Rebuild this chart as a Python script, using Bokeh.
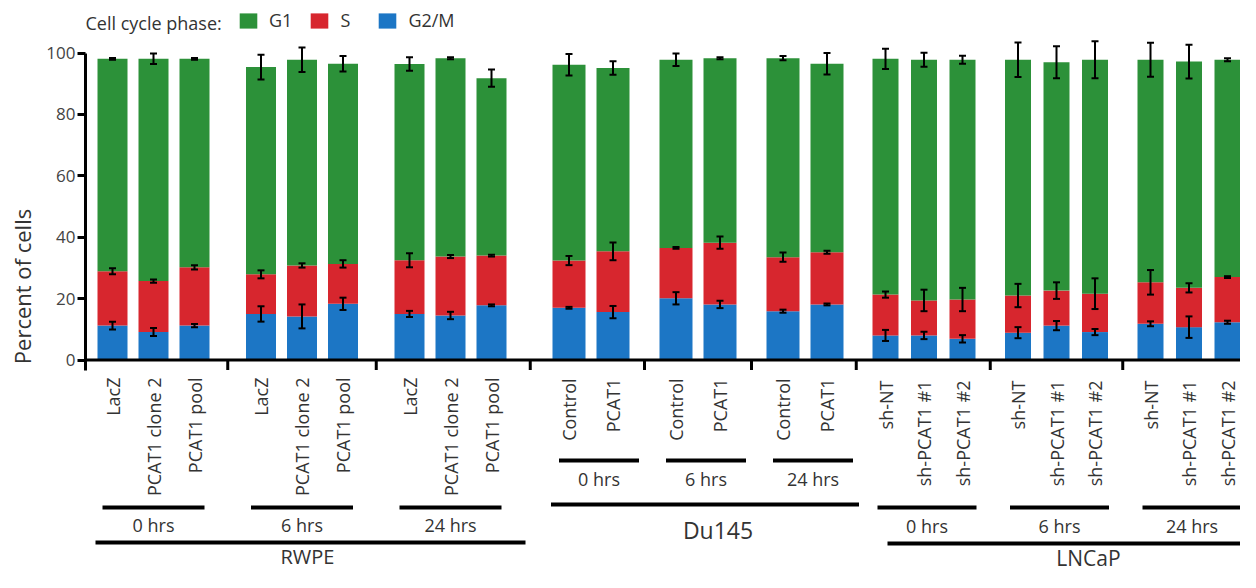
import numpy as np
from bokeh.plotting import figure
from bokeh.models import (ColumnDataSource, Range1d, Whisker, TeeHead, Span,
                          Legend, LegendItem, FixedTicker)
from bokeh.core.properties import value
from bokeh.embed import file_html
from bokeh.resources import INLINE

# ---------------- data ----------------
cell_lines = ["RWPE", "Du145", "LNCaP"]
time_points = ["0 hrs", "6 hrs", "24 hrs"]
conditions = {
    "RWPE": ["LacZ", "PCAT1 clone 2", "PCAT1 pool"],
    "Du145": ["Control", "PCAT1"],
    "LNCaP": ["sh-NT", "sh-PCAT1 #1", "sh-PCAT1 #2"],
}
phases = ["G2/M", "S", "G1"]          # stacking order (bottom -> top)
legend_order = ["G1", "S", "G2/M"]
legend_title = "Cell cycle phase:"

g2m = [11.2, 9.1, 11.2, 15.0, 14.2, 18.3, 15.0, 14.5, 17.8,
       17.0, 15.6, 20.1, 18.1, 15.9, 18.1,
       8.0, 8.0, 6.9, 8.9, 11.2, 9.1, 11.8, 10.7, 12.3]
s_phase = [17.7, 16.6, 19.0, 12.9, 16.6, 13.0, 17.5, 19.2, 16.2,
           15.4, 19.8, 16.4, 20.1, 17.6, 17.0,
           13.3, 11.4, 12.8, 12.1, 11.4, 12.5, 13.5, 12.8, 14.7]
g1 = [69.2, 72.4, 67.9, 67.5, 67.0, 65.2, 63.9, 64.6, 57.8,
      63.8, 59.7, 61.3, 60.1, 64.8, 61.4,
      76.8, 78.4, 78.1, 76.8, 74.4, 76.2, 72.5, 73.7, 70.8]

g2m_err = [1.3, 1.3, 0.5, 2.5, 3.9, 2.0, 1.0, 1.2, 0.3,
           0.3, 2.0, 2.0, 1.2, 0.5, 0.3,
           1.8, 1.2, 1.2, 1.8, 1.5, 1.0, 0.8, 3.5, 0.5]
s_err = [1.0, 0.5, 0.7, 1.3, 0.7, 1.2, 2.3, 0.5, 0.3,
         1.5, 2.9, 0.3, 2.0, 1.5, 0.5,
         1.0, 3.5, 3.8, 3.8, 2.7, 5.0, 4.0, 1.5, 0.3]
g1_err = [0.3, 1.7, 0.3, 4.0, 4.0, 2.5, 2.2, 0.3, 2.8,
          3.5, 2.2, 2.0, 0.3, 0.7, 3.5,
          3.3, 2.3, 1.3, 5.6, 5.2, 6.0, 5.5, 5.5, 0.5]

y_ticks = [0, 20, 40, 60, 80, 100]

# ---------------- style ----------------
FONT = "Open Sans"
TXT = "#333333"
COLORS = {"G1": "#2c9139", "S": "#d7262e", "G2/M": "#1c76c5"}
W, H = 1240, 572
LEFT = 85              # frame left edge (px); x scale is 1 unit per pixel
Y0_PX = 359.5          # pixel row (from top of frame) of y = 0
PX_PER_UNIT = 3.07
# spacing (px): gap before the group's first bar, pitch between bars, step between time groups
LAYOUT = {
    "RWPE":  dict(gap=27.0, pitch=41.0, step=148.5, bar=30),
    "Du145": dict(gap=77.5, pitch=44.0, step=107.0, bar=33),
    "LNCaP": dict(gap=58.5, pitch=38.5, step=132.5, bar=26),
}
STYLE = {  # pixel rows of the annotation block and horizontal line extensions (px)
    "RWPE":  dict(cond=377, sub=507, time=524, grp=542, glab=556, gsize="20px",
                  sub_ext=(-10, 10), grp_ext=(-17, 34), glab_dx=-3),
    "Du145": dict(cond=378, sub=460, time=478, grp=504, glab=529, gsize="23px",
                  sub_ext=(-10, 26), grp_ext=(-18, 32), glab_dx=13),
    "LNCaP": dict(cond=380, sub=507, time=525, grp=543, glab=557, gsize="21px",
                  sub_ext=(-8, 14), grp_ext=(2, 18), glab_dx=22),
}

# ---------------- positions derived from the category structure ----------------
rows = []          # (cell, time, cond, x)
prev_last = LEFT
for c in cell_lines:
    L = LAYOUT[c]
    first = prev_last + L["gap"]
    for ti, t in enumerate(time_points):
        for ki, k in enumerate(conditions[c]):
            rows.append((c, t, k, first + ti * L["step"] + ki * L["pitch"]))
    prev_last = rows[-1][3]
xs = [r[3] for r in rows]

p = figure(width=W, height=H, x_range=Range1d(LEFT, W),
           y_range=Range1d(-(H - Y0_PX) / PX_PER_UNIT, Y0_PX / PX_PER_UNIT),
           output_backend="svg", toolbar_location=None, x_axis_location=None,
           min_border_left=LEFT, min_border_right=0, min_border_top=0, min_border_bottom=0)
p.extra_y_ranges = {"px": Range1d(H, 0)}
p.outline_line_color = None
p.xgrid.visible = False
p.ygrid.visible = False

# ---------------- bars ----------------
src = ColumnDataSource(dict(x=xs, w=[LAYOUT[r[0]]["bar"] for r in rows],
                            **{"G2/M": g2m, "S": s_phase, "G1": g1}))
rs = p.vbar_stack(phases, x="x", width="w", source=src,
                  fill_color=[COLORS[ph] for ph in phases], line_color=None)

# ---------------- error bars ----------------
tops = np.cumsum(np.array([g2m, s_phase, g1]), axis=0)
errs = [g2m_err, s_err, g1_err]
wb, wu, wl = [], [], []
for i in range(3):
    for j, x in enumerate(xs):
        wb.append(x)
        wu.append(float(tops[i][j] + errs[i][j]))
        wl.append(float(tops[i][j] - errs[i][j]))
wsrc = ColumnDataSource(dict(base=wb, upper=wu, lower=wl))
p.add_layout(Whisker(source=wsrc, base="base", upper="upper", lower="lower",
                     level="overlay", line_color="black", line_width=2,
                     upper_head=TeeHead(size=7, line_width=2, line_color="black"),
                     lower_head=TeeHead(size=7, line_width=2, line_color="black")))

# ---------------- axes ----------------
p.add_layout(Span(location=0, dimension="width", line_color="black", line_width=3))
yax = p.yaxis[0]
yax.ticker = FixedTicker(ticks=y_ticks)
yax.bounds = (-3.3, 100)
yax.axis_line_width = 3
yax.major_tick_line_width = 3
yax.major_tick_out = 8
yax.major_tick_in = 0
yax.minor_tick_out = 0
yax.minor_tick_in = 0
yax.major_label_standoff = 2
yax.major_label_text_font = FONT
yax.major_label_text_font_size = "17px"
yax.major_label_text_color = "#444444"
yax.axis_label = "Percent of cells"
yax.axis_label_text_font = FONT
yax.axis_label_text_font_size = "22px"
yax.axis_label_text_font_style = "normal"
yax.axis_label_text_color = TXT
yax.axis_label_standoff = 6

# ---------------- category annotation block ----------------
cond_src = ColumnDataSource(dict(x=xs, text=[r[2] for r in rows],
                                 y=[STYLE[r[0]]["cond"] for r in rows]))
p.text(x="x", y="y", text="text", source=cond_src, angle=np.pi / 2,
       text_align="right", text_baseline="middle", text_font=value(FONT),
       text_font_size="18px", text_color=TXT, y_range_name="px")

sx0, sx1, sy, tx, ty, tt = [], [], [], [], [], []
gx0, gx1, gy, lx, ly, lt, ls = [], [], [], [], [], [], []
tick_x = []
prev_group_last = None
for c in cell_lines:
    st = STYLE[c]
    cx = [r[3] for r in rows if r[0] == c]
    prev_sub_last = None
    for t in time_points:
        sub = [r[3] for r in rows if r[0] == c and r[1] == t]
        a, b = sub[0] + st["sub_ext"][0], sub[-1] + st["sub_ext"][1]
        sx0.append(a); sx1.append(b); sy.append(st["sub"])
        tx.append((a + b) / 2); ty.append(st["time"]); tt.append(t)
        prev = prev_sub_last if prev_sub_last is not None else prev_group_last
        if prev is not None:
            tick_x.append((prev + sub[0]) / 2)
        prev_sub_last = sub[-1]
    prev_group_last = cx[-1]
    a, b = cx[0] + st["grp_ext"][0], cx[-1] + st["grp_ext"][1]
    gx0.append(a); gx1.append(b); gy.append(st["grp"])
    lx.append((a + b) / 2 + st["glab_dx"]); ly.append(st["glab"]); lt.append(c)
    ls.append(st["gsize"])

p.segment(x0=tick_x, x1=tick_x, y0=[Y0_PX] * len(tick_x), y1=[Y0_PX + 10] * len(tick_x),
          line_color="black", line_width=3, y_range_name="px")
p.segment(x0=sx0, x1=sx1, y0=sy, y1=sy, line_color="black", line_width=4,
          y_range_name="px")
p.segment(x0=gx0, x1=gx1, y0=gy, y1=gy, line_color="black", line_width=4,
          y_range_name="px")
p.text(x=tx, y=ty, text=tt, text_align="center", text_baseline="middle",
       text_font=value(FONT), text_font_size="18px", text_color=TXT, y_range_name="px")
p.text(x=lx, y=ly, text=lt, text_align="center", text_baseline="middle",
       text_font=value(FONT), text_font_size=ls, text_color=TXT, y_range_name="px")

# ---------------- legend ----------------
p.text(x=[LEFT], y=[22], text=[legend_title],
       text_align="left", text_baseline="middle", text_font=value(FONT),
       text_font_size="18px", text_color=TXT, y_range_name="px")
legend = Legend(items=[LegendItem(label=ph, renderers=[rs[phases.index(ph)]])
                       for ph in legend_order],
                orientation="horizontal", location=(237 - LEFT, H - 32),
                label_text_font=FONT, label_text_font_size="18px", label_text_color=TXT,
                glyph_width=22, glyph_height=19, label_height=19, label_standoff=10,
                spacing=16, padding=0, margin=0, border_line_color=None,
                background_fill_alpha=0)
p.add_layout(legend)

open("out.html", "w").write(file_html(p, INLINE))
